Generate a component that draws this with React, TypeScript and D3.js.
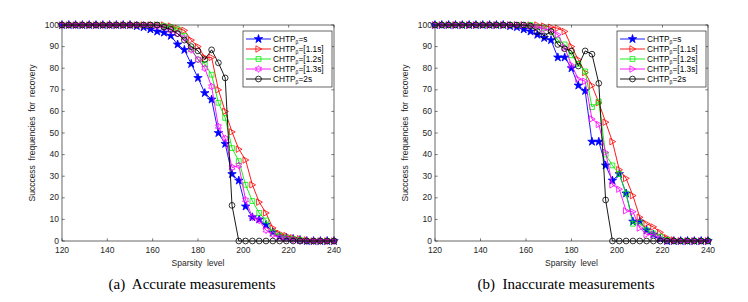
import React from 'react';
import * as d3 from 'd3';

// sparsity levels (x), sampled every 3
const sparsity = [120, 123, 126, 129, 132, 135, 138, 141, 144, 147, 150, 153, 156, 159, 162, 165, 168, 171, 174, 177, 180,
  183, 186, 189, 192, 195, 198, 201, 204, 207, 210, 213, 216, 219, 222, 225, 228, 231, 234, 237, 240];

const xTicks = [120, 140, 160, 180, 200, 220, 240];
const yTicks = [0, 10, 20, 30, 40, 50, 60, 70, 80, 90, 100];

// (a) accurate measurements
const aBlue = [100, 100, 100, 100, 100, 100, 100, 100, 100, 100, 100, 99.5, 99, 98, 97, 96.5, 95, 91, 88.5, 82, 75.5,
  68.5, 65.5, 50, 45, 31, 28, 16, 11, 10, 7.5, 4, 2, 1.5, 1, 0.5, 0, 0, 0, 0, 0];
const aRed = [100, 100, 100, 100, 100, 100, 100, 100, 100, 100, 100, 100, 100, 100, 100, 100, 99.5, 98.5, 97.5, 93, 90,
  85, 85, 70, 60, 50.5, 42.5, 37.5, 26, 18, 13, 6, 3.5, 2.5, 1.5, 1, 0.5, 0, 0, 0, 0];
const aGreen = [100, 100, 100, 100, 100, 100, 100, 100, 100, 100, 100, 100, 100, 100, 100, 99.5, 99, 98, 95, 89, 84,
  82, 77, 64, 57, 43, 37, 26, 18.5, 13, 9.5, 4, 2.5, 1.5, 1, 0.5, 0, 0, 0, 0, 0];
const aMagenta = [100, 100, 100, 100, 100, 100, 100, 100, 100, 100, 100, 100, 100, 100, 99.5, 99, 97.5, 96, 94, 88.5, 84,
  80, 71.5, 53, 47.5, 34, 35, 19, 11, 9.5, 5, 3, 1.5, 1, 0.5, 0, 0, 0, 0, 0, 0];
const aBlack = [100, 100, 100, 100, 100, 100, 100, 100, 100, 100, 100, 100, 100, 100, 100, 99, 98, 96, 93, 90, 88,
  84, 88.5, 82.5, 75.5, 16.5, 0, 0, 0, 0, 0, 0, 0, 0, 0, 0, 0, 0, 0, 0, 0];

// (b) inaccurate measurements
const bBlue = [100, 100, 100, 100, 100, 100, 100, 100, 100, 100, 100, 99.5, 99, 98, 97, 95.5, 94, 93, 85, 85, 80,
  72, 69.5, 46, 46, 35, 28, 31, 22, 9, 9, 5, 3, 1, 0, 0, 0, 0, 0, 0, 0];
const bRed = [100, 100, 100, 100, 100, 100, 100, 100, 100, 100, 100, 100, 100, 100, 100, 100, 99.5, 99, 98.5, 97, 90,
  84, 78, 72, 64, 55, 46, 33, 29, 21, 11, 8, 6.5, 4, 1.5, 0.5, 0, 0, 0, 0, 0];
const bGreen = [100, 100, 100, 100, 100, 100, 100, 100, 100, 100, 100, 100, 100, 100, 100, 99, 98.5, 97, 93, 91, 86,
  82, 78.5, 62, 64.5, 40, 35, 31, 22, 8, 8.5, 5, 3.5, 2, 0.5, 0, 0, 0, 0, 0, 0];
const bMagenta = [100, 100, 100, 100, 100, 100, 100, 100, 100, 100, 100, 100, 100, 100, 99.5, 99, 98, 97.5, 95.5, 89.5, 81.5,
  75, 74, 56.5, 54, 41, 26, 24, 14, 13.5, 6, 3, 3, 1, 0, 0, 0, 0, 0, 0, 0];
const bBlack = [100, 100, 100, 100, 100, 100, 100, 100, 100, 100, 100, 100, 100, 100, 99.5, 97, 95, 97, 91, 89, 88,
  81, 88, 86.5, 73, 19, 0, 0, 0, 0, 0, 0, 0, 0, 0, 0, 0, 0, 0, 0, 0];

const legendA = ['=s', '=[1.1s]', '=[1.2s]', '=[1.3s]', '=2s'];

type Mk = 'star' | 'tri' | 'square' | 'hex' | 'circle';

const markerPath = (m: Mk): string => {
  if (m === 'tri') return 'M3.2,0L-2.6,-3.2L-2.6,3.2Z';
  if (m === 'square') return 'M-2.4,-2.4H2.4V2.4H-2.4Z';
  if (m === 'circle') return d3.symbol(d3.symbolCircle, 26)() as string;
  if (m === 'star') return d3.symbol(d3.symbolStar, 22)() as string;
  // hexagram
  const pts: string[] = [];
  for (let i = 0; i < 12; i++) {
    const r = i % 2 === 0 ? 3.4 : 2;
    const a = (Math.PI / 6) * i - Math.PI / 2;
    pts.push(`${(r * Math.cos(a)).toFixed(2)},${(r * Math.sin(a)).toFixed(2)}`);
  }
  return 'M' + pts.join('L') + 'Z';
};

interface Series { values: number[]; color: string; marker: Mk }

const axisColor = '#262626';
const tickFont = '"Liberation Sans", Arial, sans-serif';

const Panel = ({ x0, x1, series, caption, captionX }: { x0: number; x1: number; series: Series[]; caption: string; captionX: number }) => {
  const top = 25, bottom = 241;
  const x = d3.scaleLinear().domain([120, 240]).range([x0, x1]);
  const y = d3.scaleLinear().domain([0, 100]).range([bottom, top]);
  const line = d3.line<number>().x((_, i) => x(sparsity[i])).y(d => y(d));
  const tl = 2.7;
  const lgX = x1 - 91, lgY = 31, lgW = 89, lgH = 56;

  return (
    <g>
      <rect x={x0} y={top} width={x1 - x0} height={bottom - top} fill="#fff" />
      {series.map((s, k) => (
        <g key={k}>
          <path d={line(s.values) || ''} fill="none" stroke={s.color} strokeWidth={0.9} />
          {s.values.map((v, i) => (
            <path key={i} d={markerPath(s.marker)} transform={`translate(${x(sparsity[i])},${y(v)})`}
              fill={s.marker === 'star' ? s.color : 'none'} stroke={s.color} strokeWidth={0.8} />
          ))}
        </g>
      ))}
      {/* box */}
      <rect x={x0} y={top} width={x1 - x0} height={bottom - top} fill="none" stroke={axisColor} strokeWidth={0.7} />
      {xTicks.map(t => (
        <g key={t}>
          <line x1={x(t)} x2={x(t)} y1={bottom} y2={bottom - tl} stroke={axisColor} strokeWidth={0.6} />
          <line x1={x(t)} x2={x(t)} y1={top} y2={top + tl} stroke={axisColor} strokeWidth={0.6} />
          <text x={x(t)} y={bottom + 12} textAnchor="middle" fontSize={8.5} fill={axisColor} fontFamily={tickFont}>{t}</text>
        </g>
      ))}
      {yTicks.map(t => (
        <g key={t}>
          <line x1={x0} x2={x0 + tl} y1={y(t)} y2={y(t)} stroke={axisColor} strokeWidth={0.6} />
          <line x1={x1} x2={x1 - tl} y1={y(t)} y2={y(t)} stroke={axisColor} strokeWidth={0.6} />
          <text x={x0 - 3} y={y(t) + 2.5} textAnchor="end" fontSize={8.5} fill={axisColor} fontFamily={tickFont}>{t}</text>
        </g>
      ))}
      <text x={(x0 + x1) / 2} y={bottom + 25} textAnchor="middle" fontSize={8.5} fill={axisColor}
        fontFamily={tickFont} style={{ whiteSpace: 'pre' }}>{'Sparsity  level'}</text>
      <text transform={`translate(${x0 - 27},${(top + bottom) / 2}) rotate(-90)`} textAnchor="middle" fontSize={8.5}
        fill={axisColor} fontFamily={tickFont} style={{ whiteSpace: 'pre' }}>{'Succcess  frequencies  for  recovery'}</text>

      {/* legend */}
      <rect x={lgX} y={lgY} width={lgW} height={lgH} fill="#fff" stroke={axisColor} strokeWidth={0.7} />
      {series.map((s, k) => {
        const ly = lgY + 8 + k * 10;
        return (
          <g key={k}>
            <line x1={lgX + 3} x2={lgX + 28} y1={ly} y2={ly} stroke={s.color} strokeWidth={0.9} />
            <path d={markerPath(s.marker)} transform={`translate(${lgX + 15.5},${ly})`}
              fill={s.marker === 'star' ? s.color : 'none'} stroke={s.color} strokeWidth={0.8} />
            <text x={lgX + 30} y={ly + 3} fontSize={8.3} fill="#000" fontFamily={tickFont}>
              CHTP<tspan fontSize={5} dy={2}>β</tspan><tspan dy={-2}>{legendA[k]}</tspan>
            </text>
          </g>
        );
      })}

      <text x={captionX} y={289} textAnchor="middle" fontSize={15} fill="#000"
        fontFamily='"Liberation Serif", "Times New Roman", serif' style={{ whiteSpace: 'pre' }}>{caption}</text>
    </g>
  );
};

const App = () => {
  const seriesA: Series[] = [
    { values: aBlue, color: '#0000ff', marker: 'star' },
    { values: aRed, color: '#ff0000', marker: 'tri' },
    { values: aGreen, color: '#00ee00', marker: 'square' },
    { values: aMagenta, color: '#ff00ff', marker: 'hex' },
    { values: aBlack, color: '#000000', marker: 'circle' },
  ];
  const seriesB: Series[] = [
    { values: bBlue, color: '#0000ff', marker: 'star' },
    { values: bRed, color: '#ff0000', marker: 'tri' },
    { values: bGreen, color: '#00ee00', marker: 'square' },
    { values: bMagenta, color: '#ff00ff', marker: 'tri' },
    { values: bBlack, color: '#000000', marker: 'circle' },
  ];
  return (
    <svg width={748} height={302} style={{ position: 'absolute', left: 0, top: 0, background: '#fff' }}>
      <Panel x0={62} x1={334} series={seriesA} caption={'(a)  Accurate measurements'} captionX={192} />
      <Panel x0={435} x1={708} series={seriesB} caption={'(b)  Inaccurate measurements'} captionX={566} />
    </svg>
  );
};

export default App;
